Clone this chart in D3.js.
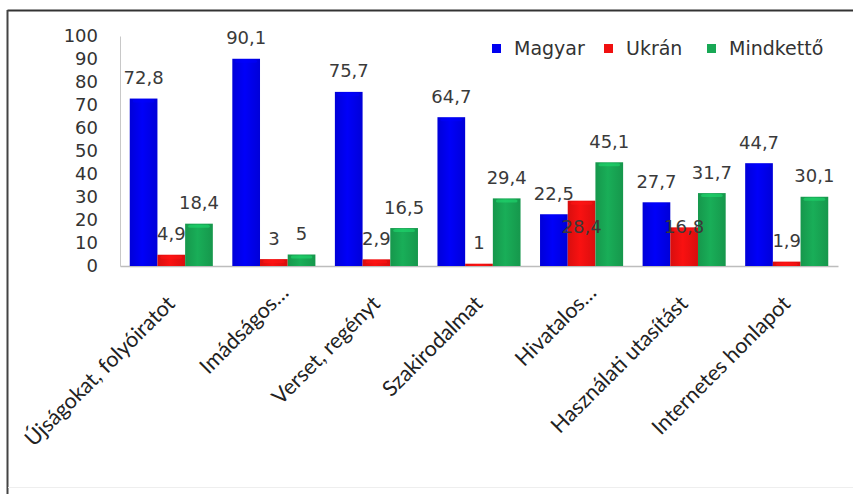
<!DOCTYPE html>
<html><head><meta charset="utf-8">
<script src="https://cdn.jsdelivr.net/npm/d3@7"></script>
<style>
html,body{margin:0;padding:0;background:#fff;}
svg{display:block;}
</style></head>
<body>
<svg id="c" width="853" height="494"></svg>
<script>
const categories = ["Újságokat, folyóiratot","Imádságos…","Verset, regényt","Szakirodalmat","Hivatalos…","Használati utasítást","Internetes honlapot"];
const seriesNames = ["Magyar","Ukrán","Mindkettő"];
const magyar = [72.8, 90.1, 75.7, 64.7, 22.5, 27.7, 44.7];
const ukran = [4.9, 3, 2.9, 1, 28.4, 16.8, 1.9];
const mindketto = [18.4, 5, 16.5, 29.4, 45.1, 31.7, 30.1];
const yTicks = [0,10,20,30,40,50,60,70,80,90,100];
const colors = ["#0000f0","#f01010","#18a855"];

const values = [magyar, ukran, mindketto];
const svg = d3.select("#c");

// frame
svg.append("line").attr("x1",7.5).attr("x2",853).attr("y1",10.5).attr("y2",10.5).attr("stroke","#333").attr("stroke-width",2);
svg.append("line").attr("x1",7.5).attr("x2",7.5).attr("y1",10).attr("y2",494).attr("stroke","#444").attr("stroke-width",2);
svg.append("line").attr("x1",8).attr("x2",853).attr("y1",487.5).attr("y2",487.5).attr("stroke","#eee").attr("stroke-width",1);

const x = d3.scaleBand().domain(categories).range([120,838]).paddingInner(0.19).paddingOuter(0.095);
const xs = d3.scaleBand().domain(seriesNames).range([0,x.bandwidth()]);
const y = d3.scaleLinear().domain([0,100]).range([266,36]);

// gradients
const defs = svg.append("defs");
colors.forEach((c,i)=>{
  const g = defs.append("linearGradient").attr("id","g"+i).attr("x1","0").attr("x2","1").attr("y1","0").attr("y2","0");
  const d = d3.color(c).darker(0.3), l = d3.color(c).brighter(0.1);
  g.append("stop").attr("offset","0").attr("stop-color",d);
  g.append("stop").attr("offset","0.45").attr("stop-color",l);
  g.append("stop").attr("offset","1").attr("stop-color",d);
});

// axes
const yAxis = d3.axisLeft(y).tickValues(yTicks).tickSize(0).tickPadding(0);
const ya = svg.append("g").attr("transform","translate(120,0)").call(yAxis);
ya.select(".domain").attr("stroke","#c8c8c8");
ya.selectAll("text").attr("x",-22).attr("font-family","DejaVu Sans").attr("font-size",18).attr("fill","#333");

const xAxis = d3.axisBottom(x).tickSize(0).tickFormat("");
const xa = svg.append("g").attr("transform","translate(0,266)").call(xAxis);
xa.select(".domain").attr("stroke","#bdbdbd").attr("stroke-width",1.5);

// bars
const groups = svg.append("g").selectAll("g").data(categories).join("g")
  .attr("transform",d=>`translate(${x(d)},0)`);
seriesNames.forEach((s,si)=>{
  groups.append("rect")
    .attr("x",xs(s)).attr("width",xs.bandwidth())
    .attr("y",(d,i)=>y(values[si][i]))
    .attr("height",(d,i)=>y(0)-y(values[si][i]))
    .attr("fill",`url(#g${si})`);
  groups.append("rect")
    .attr("x",xs(s)+3).attr("width",xs.bandwidth()-6)
    .attr("y",(d,i)=>y(values[si][i])+1)
    .attr("height",(d,i)=>Math.min(3, y(0)-y(values[si][i])-1))
    .attr("rx",2)
    .attr("fill",d3.color(colors[si]).brighter(0.8)).attr("opacity",0.55);
});

// data labels
const fmt = v => String(v).replace(".",",");
seriesNames.forEach((s,si)=>{
  groups.append("text")
    .attr("x",xs(s)+xs.bandwidth()/2)
    .attr("y",(d,i)=>{
      let cy = y(values[si][i]) - 21;
      if (si===1) cy = Math.max(cy, y(17));
      return cy + 6.5;
    })
    .attr("text-anchor","middle")
    .attr("font-family","DejaVu Sans").attr("font-size",18).attr("fill","#3a3a3a")
    .text((d,i)=>fmt(values[si][i]));
});

// category labels
svg.append("g").selectAll("text").data(categories).join("text")
  .attr("transform",d=>{
    const px = x(d)+x.bandwidth()/2 + 5 + (d.endsWith("…")?11:0);
    const py = 305 - (d.endsWith("…")?11:0);
    return `translate(${px},${py}) rotate(-45)`;
  })
  .attr("text-anchor","end")
  .attr("font-family","Lato").attr("font-size",21.5).attr("fill","#222")
  .text(d=>d);

// legend
const leg = svg.append("g");
const legX = [492,604,707];
seriesNames.forEach((s,i)=>{
  leg.append("rect").attr("x",legX[i]).attr("y",44).attr("width",9).attr("height",9).attr("fill",colors[i]);
  leg.append("text").attr("x",legX[i]+22).attr("y",55).attr("font-family","DejaVu Sans").attr("font-size",19).attr("fill","#333").text(s);
});
</script>
</body></html>
